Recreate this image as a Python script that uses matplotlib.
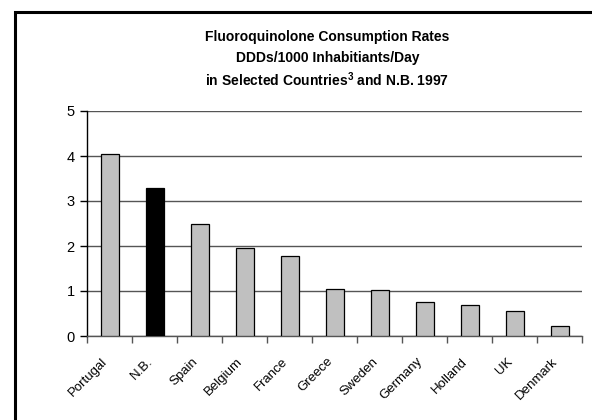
import matplotlib
matplotlib.use("Agg")
import matplotlib.pyplot as plt
import matplotlib.patches as patches
import matplotlib.transforms as mtransforms
import numpy as np

countries = ["Portugal", "N.B.", "Spain", "Belgium", "France", "Greece",
             "Sweden", "Germany", "Holland", "UK", "Denmark"]
values = [4.04, 3.30, 2.48, 1.95, 1.77, 1.04, 1.02, 0.75, 0.70, 0.55, 0.23]
highlight = "N.B."
y_ticks = [0, 1, 2, 3, 4, 5]

plt.rcParams['font.family'] = ['Liberation Sans', 'DejaVu Sans']
plt.rcParams['mathtext.fontset'] = 'custom'
plt.rcParams['mathtext.bf'] = 'Liberation Sans:bold'
plt.rcParams['mathtext.rm'] = 'Liberation Sans:bold'

fig = plt.figure(figsize=(5.92, 4.2), dpi=100)
ax = fig.add_axes([87/592, 1-336/420, (582-87)/592, (336-111)/420])

n = len(countries)
x = np.arange(n) + 0.5
colors = ['black' if c == highlight else '#C0C0C0' for c in countries]
ax.bar(x, values, width=0.4, color=colors, edgecolor='black', linewidth=0.9, zorder=3)

ax.set_xlim(0, n)
ax.set_ylim(0, 5)
ax.set_yticks(y_ticks)
ax.set_yticklabels([str(t) for t in y_ticks], fontsize=10.5)
ax.yaxis.grid(True, color='#555555', linewidth=1.0, zorder=0)
ax.set_axisbelow(True)

ax.set_xticks(x)
ax.set_xticklabels(countries, rotation=45, ha='right', rotation_mode='anchor', fontsize=9.5)
ax.tick_params(axis='x', which='major', length=0, pad=14)
offset = mtransforms.ScaledTranslation(-8/100, 0, fig.dpi_scale_trans)
for lbl in ax.get_xticklabels():
    lbl.set_transform(lbl.get_transform() + offset)
ax.set_xticks(np.arange(n + 1), minor=True)
ax.tick_params(axis='x', which='minor', length=5, width=1, color='#555555', direction='out')
ax.tick_params(axis='y', length=5, width=1, direction='out', pad=4)

for s in ['top', 'right']:
    ax.spines[s].set_visible(False)
ax.spines['left'].set_color('black')
ax.spines['left'].set_linewidth(1.0)
ax.spines['bottom'].set_color('#555555')
ax.spines['bottom'].set_linewidth(1.0)

fig.text(0.553, 1-37/420, "Fluoroquinolone Consumption Rates", ha='center', va='center',
         fontsize=10, fontweight='bold')
fig.text(0.553, 1-58/420, "DDDs/1000 Inhabitiants/Day", ha='center', va='center',
         fontsize=10, fontweight='bold')
fig.text(0.553, 1-80/420, r"in Selected Countries$^{\mathbf{3}}$ and N.B. 1997", ha='center', va='center',
         fontsize=10, fontweight='bold')

rect = patches.Rectangle((15/592, -0.1), 1.2, 1.1 - 12/420, transform=fig.transFigure,
                         fill=False, edgecolor='black', linewidth=2.2, clip_on=False)
fig.patches.append(rect)

fig.savefig("out.png", dpi=100)
